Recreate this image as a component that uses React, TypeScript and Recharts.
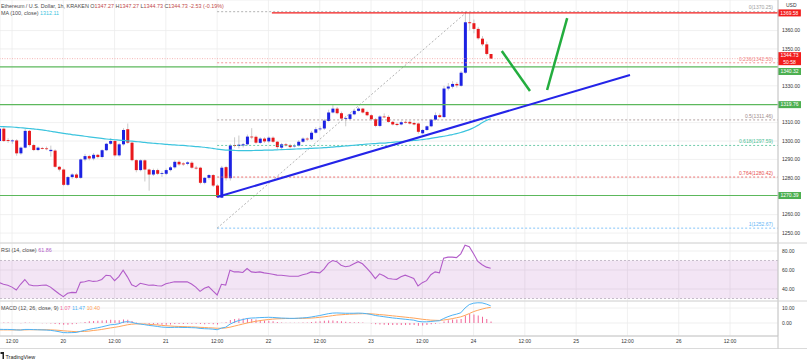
import React from 'react';
import { ComposedChart, Bar, Line, XAxis, YAxis, CartesianGrid, ReferenceLine, ReferenceArea } from 'recharts';

const FONT = '"Liberation Sans", Arial, sans-serif';
const FIRST_HOUR = 9; // hour index 0 = 19th 00:00

const opens = [
  1300, 1306.7, 1300.5, 1300, 1300.3, 1293.3, 1296.4, 1305.5, 1297.8, 1295.1,
  1296.2, 1296, 1294.5, 1294.8, 1286, 1284.5, 1276.2, 1280.4, 1281.8, 1280,
  1290, 1291.8, 1290.5, 1292.5, 1291.3, 1295, 1298.5, 1300, 1292.2, 1298.2,
  1306.4, 1299.1, 1289.6, 1284.2, 1289.5, 1284.5, 1281.8, 1284.2, 1282.2, 1282.2,
  1284.2, 1285.7, 1288.7, 1287.8, 1287.6, 1288.2, 1285.5, 1285.5, 1277.3, 1280,
  1281.5, 1275.8, 1269.2, 1285.8, 1279.8, 1297.8, 1297.3, 1297.6, 1298.2, 1302.4,
  1302.3, 1299, 1301.3, 1299.8, 1301.8, 1299.6, 1296.4, 1298.2, 1297.8, 1297.1,
  1297.5, 1299.6, 1301.3, 1300.9, 1304.5, 1306.4, 1306.8, 1310.9, 1315.5, 1317.6,
  1315.1, 1312.2, 1312, 1314.5, 1316.4, 1317.6, 1315.8, 1314, 1311.8, 1308.2,
  1313.3, 1313.1, 1310.4, 1309.3, 1309, 1310.4, 1310.4, 1309.8, 1309.5, 1304.2,
  1306, 1308, 1311.6, 1314, 1313, 1328.5, 1329.5, 1331, 1330, 1337.1,
  1364.5, 1364, 1360.9, 1355.6, 1352.5, 1347.27,
];
const closes = [
  1306.7, 1300, 1300, 1300.3, 1293.3, 1296.4, 1305.5, 1297.8, 1295.1, 1296.4,
  1296, 1295.6, 1295.2, 1286, 1284.5, 1276.2, 1280.4, 1281.8, 1280, 1290,
  1291.8, 1290.5, 1292.5, 1291.3, 1295, 1298.5, 1300, 1292.2, 1298.2, 1306,
  1299.1, 1289.6, 1284.2, 1289.5, 1284.5, 1281.8, 1284.2, 1282.2, 1282.6, 1284.2,
  1285.7, 1288.7, 1287.3, 1287.3, 1288.4, 1285.5, 1285.3, 1277.3, 1280, 1281.5,
  1275.8, 1269.5, 1285.5, 1279.8, 1297.6, 1297.3, 1298, 1298.2, 1302.4, 1302.2,
  1299.1, 1301.3, 1299.8, 1301.8, 1299.6, 1296.7, 1298.2, 1297.6, 1296.7, 1297.5,
  1299.6, 1301.3, 1300.9, 1304.5, 1306.4, 1306.8, 1311.1, 1315.5, 1317.6, 1315.1,
  1312.2, 1312.4, 1314.5, 1316.4, 1317.6, 1315.5, 1314, 1311.8, 1308.2, 1313.3,
  1313.1, 1310.4, 1309, 1308.7, 1310.2, 1310, 1309.5, 1309, 1305, 1306,
  1308, 1311.6, 1314, 1313, 1328.5, 1329.6, 1331, 1330.2, 1337.1, 1364.5,
  1364, 1360.9, 1355.8, 1352.5, 1347.3, 1344.73,
];
const highs = [
  1307.5, 1307.5, 1301.5, 1301, 1301, 1297, 1306.5, 1306, 1298.5, 1297,
  1296.8, 1297, 1297.5, 1295.5, 1286.5, 1285, 1281, 1282.5, 1282.5, 1290.5,
  1293, 1292.5, 1293.5, 1293, 1295.5, 1299, 1301.5, 1300.5, 1299, 1307,
  1309.5, 1299.5, 1290, 1290, 1290, 1285, 1285, 1285, 1283.5, 1285,
  1286.5, 1289.5, 1289.5, 1288.5, 1289, 1289, 1286.5, 1286, 1280.5, 1282,
  1282, 1276.5, 1286.5, 1286.5, 1298.5, 1302, 1303, 1299, 1303.5, 1307,
  1303, 1302, 1302, 1302.5, 1302.5, 1300, 1299, 1299, 1298.5, 1298.5,
  1300.5, 1302, 1302, 1305.5, 1307.5, 1308, 1312, 1317, 1320, 1318.5,
  1316, 1313.5, 1315, 1317, 1318.5, 1318, 1316.5, 1314.5, 1312.5, 1314,
  1315, 1314, 1311, 1310, 1311, 1311, 1311, 1310.5, 1310, 1306.5,
  1308.5, 1312, 1315.5, 1315, 1330, 1331.5, 1332.5, 1332, 1338, 1370.25,
  1369.5, 1366, 1362, 1357, 1354, 1347.27,
];
const lows = [
  1299, 1299.5, 1299, 1298.5, 1292, 1292.5, 1296, 1297, 1294.5, 1294.5,
  1295.5, 1295, 1291.5, 1285.5, 1283.5, 1275.5, 1275.5, 1279.5, 1279.5, 1279.5,
  1289, 1289.5, 1289.5, 1290.5, 1290.5, 1294.5, 1298, 1291.5, 1291.5, 1297.5,
  1298.5, 1289, 1283, 1283.5, 1278, 1273, 1281, 1281.5, 1280.5, 1281.5,
  1283.5, 1285, 1286.5, 1286.5, 1286.8, 1285, 1284.5, 1276.5, 1276.5, 1279,
  1275, 1269.2, 1269, 1278.5, 1278.5, 1296.5, 1296, 1296.5, 1297.5, 1301,
  1298.5, 1298.5, 1299, 1299, 1299, 1295.5, 1295.5, 1297, 1296, 1296.5,
  1297, 1299, 1300, 1300.5, 1304, 1305.5, 1306, 1310.5, 1315, 1314.5,
  1311.5, 1308, 1311.5, 1314, 1316, 1315, 1313.5, 1311, 1307.5, 1307.5,
  1312.5, 1310, 1308.5, 1308, 1308.5, 1309.5, 1309, 1308.5, 1304, 1303.5,
  1305.5, 1307.5, 1311, 1312.5, 1312.5, 1327.5, 1328.5, 1329, 1329.5, 1336.5,
  1360, 1358.5, 1355, 1351.5, 1346.5, 1344.73,
];
const ma100 = [
  1307.9, 1307.8, 1307.7, 1307.6, 1307.4, 1307.2, 1307.0, 1306.8, 1306.6, 1306.3,
  1306.0, 1305.7, 1305.3, 1305.0, 1304.6, 1304.2, 1303.9, 1303.5, 1303.2, 1302.9,
  1302.6, 1302.3, 1302.0, 1301.7, 1301.4, 1301.1, 1300.9, 1300.7, 1300.5, 1300.3,
  1300.1, 1299.9, 1299.7, 1299.5, 1299.3, 1299.0, 1298.8, 1298.6, 1298.4, 1298.2,
  1298.0, 1297.9, 1297.7, 1297.6, 1297.4, 1297.2, 1297.0, 1296.8, 1296.6, 1296.3,
  1296.0, 1295.6, 1295.3, 1295.1, 1295.0, 1294.9, 1294.8, 1294.8, 1294.8, 1294.8,
  1294.9, 1294.9, 1295.0, 1295.0, 1295.1, 1295.2, 1295.3, 1295.4, 1295.5, 1295.6,
  1295.7, 1295.8, 1295.9, 1296.0, 1296.1, 1296.2, 1296.4, 1296.5, 1296.7, 1296.9,
  1297.1, 1297.3, 1297.5, 1297.7, 1297.9, 1298.1, 1298.3, 1298.5, 1298.6, 1298.8,
  1298.9, 1299.1, 1299.3, 1299.5, 1299.7, 1299.9, 1300.1, 1300.3, 1300.5, 1300.8,
  1301.1, 1301.4, 1301.8, 1302.2, 1302.6, 1303.0, 1303.5, 1304.0, 1304.6, 1305.4,
  1306.2, 1307.2, 1308.5, 1309.9, 1311.1, 1312.11,
];
const rsi = [
  46.7, 45, 44, 42, 38.9, 45, 50, 44.5, 43.5, 43.5,
  44, 44.2, 42, 38.5, 35, 32, 35.5, 36.5, 36.2, 47,
  47.7, 49, 48, 48.5, 50, 54.5, 54, 48.8, 53, 59.8,
  52.8, 44.5, 42.5, 46, 45, 44, 44.2, 43.5, 43.2, 45.5,
  46.5, 47.7, 47.5, 47.5, 47.7, 45.3, 42, 37.5, 40.7, 42.5,
  38, 33.7, 45, 44.2, 59.8, 58, 58, 57.4, 61.6, 58,
  57.5, 58, 57, 56.3, 55.5, 54.6, 54.5, 54, 53.5, 53.5,
  53.5, 55, 56, 58, 57.5, 57, 61, 67, 70, 68.8,
  65, 63.5, 64.2, 66.5, 68.8, 66.5, 62, 57, 51, 56,
  54, 51, 50.5, 50.2, 52.8, 54.6, 53, 51.2, 43.2, 46.7,
  48.8, 55, 58, 57, 72.5, 73.5, 73.5, 73, 77, 86,
  84.5, 77, 69, 65.5, 63, 61.86,
];
const macd = [
  -4.2, -4.3, -4.3, -4.4, -4.6, -4.7, -4.3, -4.3, -4.4, -4.5,
  -4.6, -4.7, -4.9, -5.3, -5.8, -6.4, -6.5, -6.4, -6.3, -5.6,
  -4.9, -4.3, -3.7, -3.2, -2.6, -1.9, -1.2, -1.0, -0.5, 0.6,
  0.9, 0.5, -0.3, -0.7, -1.1, -1.6, -1.9, -2.3, -2.7, -2.9,
  -3.0, -2.9, -2.9, -3.0, -3.0, -3.1, -3.2, -3.6, -3.8, -3.9,
  -4.1, -4.5, -3.4, -2.8, -0.8, 0.6, 1.6, 2.3, 3.0, 3.3,
  3.4, 3.6, 3.7, 3.8, 3.7, 3.5, 3.3, 3.2, 3.1, 3.1,
  3.2, 3.4, 3.6, 4.0, 4.5, 5.0, 5.6, 6.2, 6.6, 6.7,
  6.6, 6.5, 6.5, 6.5, 6.6, 6.5, 6.2, 5.7, 5.0, 4.6,
  4.2, 3.8, 3.4, 3.1, 2.8, 2.5, 2.2, 1.9, 1.1, 0.8,
  0.8, 1.0, 1.3, 1.5, 3.0, 4.2, 5.2, 5.9, 6.8, 10.0,
  12.3, 13.2, 13.5, 13.4, 12.6, 11.47,
];
const signal = [
  -4.6, -4.6, -4.6, -4.6, -4.6, -4.6, -4.6, -4.5, -4.5, -4.5,
  -4.5, -4.5, -4.6, -4.7, -4.9, -5.2, -5.4, -5.6, -5.8, -5.7,
  -5.6, -5.4, -5.0, -4.7, -4.3, -3.8, -3.3, -2.9, -2.4, -1.8,
  -1.2, -0.8, -0.6, -0.6, -0.7, -0.9, -1.1, -1.3, -1.6, -1.8,
  -2.0, -2.2, -2.3, -2.4, -2.5, -2.6, -2.7, -2.9, -3.0, -3.2,
  -3.3, -3.5, -3.5, -3.3, -2.8, -2.1, -1.4, -0.7, 0.0, 0.6,
  1.1, 1.6, 2.0, 2.3, 2.6, 2.8, 2.9, 3.0, 3.0, 3.0,
  3.1, 3.1, 3.2, 3.3, 3.5, 3.8, 4.1, 4.5, 4.9, 5.3,
  5.5, 5.7, 5.9, 6.0, 6.1, 6.2, 6.2, 6.1, 5.9, 5.6,
  5.4, 5.1, 4.8, 4.5, 4.2, 3.9, 3.6, 3.3, 2.9, 2.5,
  2.2, 1.9, 1.8, 1.7, 2.0, 2.4, 2.9, 3.5, 4.1, 5.1,
  6.3, 7.6, 8.5, 9.3, 10.0, 10.40,
];
const hist = [
  0.4, 0.3, 0.3, 0.2, 0.0, -0.1, 0.3, 0.2, 0.1, 0.0,
  -0.1, -0.2, -0.3, -0.6, -0.9, -1.2, -1.1, -0.8, -0.5, 0.1,
  0.7, 1.1, 1.3, 1.5, 1.7, 1.9, 2.1, 1.9, 1.9, 2.4,
  2.1, 1.3, 0.3, -0.1, -0.4, -0.7, -0.8, -1.0, -1.1, -1.1,
  -1.0, -0.7, -0.6, -0.6, -0.5, -0.5, -0.5, -0.7, -0.8, -0.7,
  -0.8, -1.0, 0.1, 0.5, 2.0, 2.7, 3.0, 3.0, 3.0, 2.7,
  2.3, 2.0, 1.7, 1.5, 1.1, 0.7, 0.4, 0.2, 0.1, 0.1,
  0.1, 0.3, 0.4, 0.7, 1.0, 1.2, 1.5, 1.7, 1.7, 1.4,
  1.1, 0.8, 0.6, 0.5, 0.5, 0.3, 0.0, -0.4, -0.9, -1.0,
  -1.2, -1.3, -1.4, -1.4, -1.4, -1.4, -1.4, -1.4, -1.8, -1.7,
  -1.4, -0.9, -0.5, -0.2, 1.0, 1.8, 2.3, 2.4, 2.7, 4.9,
  6.0, 5.6, 5.0, 4.1, 2.6, 1.07,
];

const timeTicks = [12, 24, 36, 48, 60, 72, 84, 96, 108, 120, 132, 144, 156, 168, 180];
const timeLabels = ['12:00', '20', '12:00', '21', '12:00', '22', '12:00', '23', '12:00', '24', '12:00', '25', '12:00', '26', '12:00'];
const priceTicks = [1250, 1260, 1280, 1290, 1300, 1310, 1330, 1350, 1360];
const rsiTicks = [40, 60, 80];
const macdTicks = [0, 10];

const fibRatios = ['0', '0.236', '0.5', '0.618', '0.764', '1'];
const fibPrices = [1370.25, 1342.5, 1311.46, 1297.59, 1280.42, 1252.67];
const fibColors = ['#9e9e9e', '#f08080', '#a08c8c', '#4cbf96', '#e84e4e', '#64b5f6'];
const FIB_START = 60;
const FIB_END = 191.2;
const FIB_TOP_HOUR = 118.5;

const supportPrices = [1340.32, 1319.76, 1270.39];
const supportTagShift = [4.7, 0, 0];
const resistancePrice = 1369.58;
const RESIST_START = 72.8;
const lastPrice = 1344.73;
const countdown = '50:58';

const trendLine = [{ x: 60, y: 1269.6 }, { x: 156.6, y: 1335.9 }];
const arrowDown = [{ x: 126.6, y: 1348.9 }, { x: 133.2, y: 1327.2 }];
const arrowUp = [{ x: 137.2, y: 1327.7 }, { x: 141.9, y: 1366.8 }];

const X_DOMAIN: [number, number] = [9.19, 191.23];
const PRICE_DOMAIN: [number, number] = [1244.6, 1376.6];
const RSI_DOMAIN: [number, number] = [27.4, 88.4];
const MACD_DOMAIN: [number, number] = [-8.67, 14.67];

const UP = '#1c22e3';
const DOWN = '#e8191c';
const GRID = '#ececec';
const AXIS = '#c4c4c4';
const TICK = { fontSize: 5, fill: '#333', fontFamily: FONT };

const data = opens.map((o, i) => ({
  h: FIRST_HOUR + i,
  open: o,
  close: closes[i],
  high: highs[i],
  low: lows[i],
  ma: ma100[i],
  rsi: rsi[i],
  macd: macd[i],
  signal: signal[i],
  hist: hist[i],
}));

const Candle = (props: any) => {
  const { x, y, width, height, payload } = props;
  if (x == null || y == null || !payload) return null;
  const top = Math.min(y, y + height);
  const h = Math.abs(height);
  const range = payload.high - payload.low;
  const ppu = range > 0 ? h / range : 0;
  const up = payload.close >= payload.open;
  const bTop = top + (payload.high - Math.max(payload.open, payload.close)) * ppu;
  const bBot = top + (payload.high - Math.min(payload.open, payload.close)) * ppu;
  const cx = x + width / 2;
  return (
    <g>
      <line x1={cx} x2={cx} y1={top} y2={top + h} stroke="#a8a8a8" strokeWidth={0.6} />
      <rect x={x} y={bTop} width={width} height={Math.max(0.8, bBot - bTop)} fill={up ? UP : DOWN} />
    </g>
  );
};

const fibLabel = (text: string, color: string) => (props: any) => {
  const vb = props.viewBox || {};
  return (
    <text x={(vb.x || 0) + (vb.width || 0) - 5} y={(vb.y || 0) - 2.2} textAnchor="end" fontSize={5} fill={color} fontFamily={FONT}>
      {text}
    </text>
  );
};

const axisTag = (text: string, bg: string, dy = 0, sub?: string) => (props: any) => {
  const vb = props.viewBox || {};
  const x = (vb.x || 0) + (vb.width || 0);
  const y = (vb.y || 0) + dy;
  const hgt = sub ? 13 : 7;
  const top = sub ? y - 6.5 : y - 3.5;
  return (
    <g>
      <rect x={x} y={top} width={23} height={hgt} fill={bg} />
      <text x={x + 11.5} y={top + 5.1} textAnchor="middle" fontSize={5} fill="#fff" fontFamily={FONT}>{text}</text>
      {sub ? <text x={x + 11.5} y={top + 11.4} textAnchor="middle" fontSize={5} fill="#fff" fontFamily={FONT}>{sub}</text> : null}
    </g>
  );
};

const fmt2 = (v: number) => v.toFixed(2);
const timeFmt = (v: number) => timeLabels[timeTicks.indexOf(v)] ?? '';

export default function App() {
  return (
    <div style={{ position: 'absolute', left: 0, top: 0, width: 807, height: 363, background: '#fff', overflow: 'hidden', fontFamily: FONT }}>
      {/* Main price pane */}
      <div style={{ position: 'absolute', left: 0, top: 0 }}>
        <ComposedChart width={807} height={243} data={data} margin={{ top: 0, right: 0, bottom: 0, left: 0 }}>
          <CartesianGrid stroke={GRID} strokeWidth={0.8} />
          <XAxis dataKey="h" type="number" domain={X_DOMAIN} allowDataOverflow ticks={timeTicks} hide />
          <YAxis orientation="right" width={29} type="number" domain={PRICE_DOMAIN} allowDataOverflow ticks={priceTicks} interval={0}
            tickFormatter={fmt2} tick={TICK} axisLine={{ stroke: AXIS }} tickLine={false} tickSize={2} tickMargin={2} />
          {fibPrices.map((p, i) => (
            <ReferenceLine key={'fib' + i} segment={[{ x: FIB_START, y: p }, { x: FIB_END, y: p }]} stroke={fibColors[i]}
              strokeWidth={0.8} strokeDasharray="2 2" label={fibLabel(`${fibRatios[i]}(${p.toFixed(2)})`, fibColors[i])} />
          ))}
          <ReferenceLine segment={[{ x: FIB_START, y: fibPrices[5] }, { x: FIB_TOP_HOUR, y: fibPrices[0] }]} stroke="#a0a0a0" strokeWidth={0.8} strokeDasharray="2 2" />
          <ReferenceLine y={lastPrice} stroke="#f4a3a3" strokeWidth={0.8} strokeDasharray="1 1.5" label={axisTag(lastPrice.toFixed(2), '#f21c1c', 0, countdown)} />
          {supportPrices.map((p, i) => (
            <ReferenceLine key={'sup' + i} y={p} stroke="#5cb85c" strokeWidth={1.2} label={axisTag(p.toFixed(2), '#4caf50', supportTagShift[i])} />
          ))}
          <ReferenceLine segment={[{ x: RESIST_START, y: resistancePrice }, { x: FIB_END, y: resistancePrice }]} stroke="#f21c1c" strokeWidth={1.4}
            label={axisTag(resistancePrice.toFixed(2), '#f21c1c')} />
          <Line dataKey="ma" type="monotone" stroke="#3cc4de" strokeWidth={1.2} dot={false} isAnimationActive={false} />
          <Bar dataKey={(d: any) => [d.low, d.high]} barSize={3} shape={(p: any) => <Candle {...p} />} isAnimationActive={false} />
          <ReferenceLine segment={trendLine} stroke="#2424e8" strokeWidth={2} />
          <ReferenceLine segment={arrowDown} stroke="#23ad3e" strokeWidth={2.5} />
          <ReferenceLine segment={arrowUp} stroke="#23ad3e" strokeWidth={2.5} />
        </ComposedChart>
      </div>

      {/* RSI pane */}
      <div style={{ position: 'absolute', left: 0, top: 243 }}>
        <ComposedChart width={807} height={58} data={data} margin={{ top: 0, right: 0, bottom: 0, left: 0 }}>
          <CartesianGrid stroke={GRID} strokeWidth={0.8} />
          <XAxis dataKey="h" type="number" domain={X_DOMAIN} allowDataOverflow ticks={timeTicks} hide />
          <YAxis orientation="right" width={29} type="number" domain={RSI_DOMAIN} allowDataOverflow ticks={rsiTicks} interval={0}
            tickFormatter={fmt2} tick={TICK} axisLine={{ stroke: AXIS }} tickLine={false} tickSize={2} tickMargin={2} />
          <ReferenceArea y1={30} y2={70} fill="#9c27b0" fillOpacity={0.12} stroke="none" />
          <ReferenceLine y={70} stroke="#b8adbd" strokeWidth={0.8} strokeDasharray="2 2" />
          <ReferenceLine y={30} stroke="#b8adbd" strokeWidth={0.8} strokeDasharray="2 2" />
          <Line dataKey="rsi" stroke="#b25cc9" strokeWidth={1.1} dot={false} isAnimationActive={false} />
        </ComposedChart>
      </div>

      {/* MACD pane */}
      <div style={{ position: 'absolute', left: 0, top: 301 }}>
        <ComposedChart width={807} height={47} data={data} margin={{ top: 0, right: 0, bottom: 0, left: 0 }}>
          <CartesianGrid stroke={GRID} strokeWidth={0.8} />
          <XAxis dataKey="h" type="number" domain={X_DOMAIN} allowDataOverflow ticks={timeTicks} interval={0} height={12}
            tickFormatter={timeFmt} tick={TICK} axisLine={{ stroke: AXIS }} tickLine={false} tickSize={2} tickMargin={1} />
          <YAxis orientation="right" width={29} type="number" domain={MACD_DOMAIN} allowDataOverflow ticks={macdTicks} interval={0}
            tickFormatter={fmt2} tick={TICK} axisLine={{ stroke: AXIS }} tickLine={false} tickSize={2} tickMargin={2} />
          <Bar dataKey="hist" barSize={1} fill="#f2689a" isAnimationActive={false} />
          <Line dataKey="signal" stroke="#ffa45a" strokeWidth={1} dot={false} isAnimationActive={false} />
          <Line dataKey="macd" stroke="#4fb3f5" strokeWidth={1} dot={false} isAnimationActive={false} />
        </ComposedChart>
      </div>

      {/* Texts and pane separators */}
      <svg width={807} height={363} style={{ position: 'absolute', left: 0, top: 0, pointerEvents: 'none' }} fontFamily={FONT}>
        <line x1={0} x2={807} y1={243} y2={243} stroke="#d4d4d4" strokeWidth={1} />
        <line x1={0} x2={807} y1={301} y2={301} stroke="#d4d4d4" strokeWidth={1} />
        <line x1={0} x2={807} y1={348.5} y2={348.5} stroke="#dadada" strokeWidth={1} />
        <line x1={778} x2={778} y1={336} y2={348.5} stroke={AXIS} strokeWidth={1} />
        <text x={1} y={8} fontSize={5.4} fill="#4a4a4a">
          Ethereum / U.S. Dollar, 1h, KRAKEN{'  '}O<tspan fill="#c24a4a">1347.27</tspan> H<tspan fill="#c24a4a">1347.27</tspan> L<tspan fill="#c24a4a">1344.73</tspan> C<tspan fill="#c24a4a">1344.73</tspan>{'  '}<tspan fill="#c24a4a">-2.53 (-0.19%)</tspan>
        </text>
        <text x={1} y={15.2} fontSize={5.4} fill="#4a4a4a">
          MA (100, close){'  '}<tspan fill="#3cc4de">1312.11</tspan>
        </text>
        <text x={786} y={7} fontSize={5} fill="#333">USD</text>
        <text x={1} y={251.8} fontSize={5.4} fill="#4a4a4a">
          RSI (14, close){'  '}<tspan fill="#b25cc9">61.86</tspan>
        </text>
        <text x={1} y={309.5} fontSize={5.4} fill="#4a4a4a">
          MACD (12, 26, close, 9){'  '}<tspan fill="#f2689a">1.07</tspan>{'  '}<tspan fill="#4fb3f5">11.47</tspan>{'  '}<tspan fill="#ffa45a">10.40</tspan>
        </text>
        <path d="M0.5 352 L4 352 L4 359 L2.5 359 L2.5 354 L0.5 354 Z" fill="#222" />
        <text x={5.5} y={358.5} fontSize={5.4} fill="#222">TradingView</text>
      </svg>
    </div>
  );
}
